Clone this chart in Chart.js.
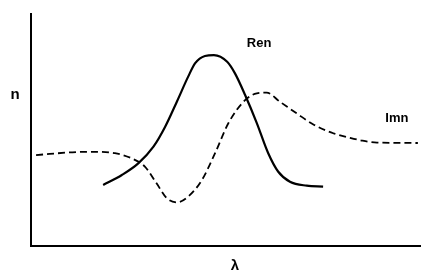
<!DOCTYPE html>
<html><head><meta charset="utf-8">
<script src="https://cdn.jsdelivr.net/npm/chart.js@4"></script>
<style>html,body{margin:0;padding:0;background:#fff}#wrap{width:421px;height:272px}</style>
</head><body><div id="wrap"><canvas id="c" width="421" height="272"></canvas></div>
<script>
const renX = [18.5, 23.3, 27.5, 31.4, 34.4, 37.4, 40.3, 42.1, 44.6, 46.9, 50.3, 52.3, 54.9, 57.9, 60.8, 63.4, 66.4, 70.7, 74.9];
const renY = [26.3, 30.6, 35.6, 42.8, 51.4, 62.2, 73.0, 78.8, 81.9, 82.3, 79.4, 74.4, 65.1, 53.0, 40.1, 32.0, 27.7, 26.0, 25.6];
const imnX = [1.3, 11.8, 16.4, 21.5, 25.8, 29.2, 32.2, 34.8, 37.4, 40.3, 43.8, 47.2, 50.6, 54.9, 57.9, 60.4, 63.8, 68.1, 72.4, 77.5, 81.8, 85.0, 88.7, 99.2];
const imnY = [39.2, 40.5, 40.6, 40.0, 37.8, 34.2, 27.0, 20.6, 18.8, 21.3, 28.4, 40.0, 52.9, 62.9, 65.8, 66.1, 62.2, 57.2, 52.4, 48.6, 46.6, 45.4, 44.6, 44.4];
const labels = [
  {text: 'Ren', x: 58.5, y: 87.5},
  {text: 'Imn', x: 93.8, y: 55.0},
];
const yTitle = 'n';
const xTitle = 'λ';

const pts = (xs, ys) => xs.map((x, i) => ({x, y: ys[i]}));

const textPlugin = {
  id: 'texts',
  afterDraw(chart) {
    const {ctx, scales: {x, y}, chartArea} = chart;
    ctx.save();
    ctx.fillStyle = '#000';
    ctx.font = 'bold 13px "Liberation Sans", Arial, sans-serif';
    ctx.textAlign = 'center';
    ctx.textBaseline = 'middle';
    labels.forEach(l => ctx.fillText(l.text, x.getPixelForValue(l.x), y.getPixelForValue(l.y)));
    ctx.font = 'bold 15px "Liberation Sans", Arial, sans-serif';
    ctx.fillText(yTitle, chartArea.left - 16, y.getPixelForValue(65));
    ctx.fillText(xTitle, x.getPixelForValue(52.3), chartArea.bottom + 20);
    ctx.restore();
  }
};

const zeroW = s => { s.width = 0; };
const zeroH = s => { s.height = 0; };

new Chart(document.getElementById('c'), {
  type: 'line',
  data: {
    datasets: [
      {label: 'Ren', data: pts(renX, renY), borderColor: '#000', borderWidth: 2.2, pointRadius: 0, cubicInterpolationMode: 'monotone', fill: false},
      {label: 'Imn', data: pts(imnX, imnY), borderColor: '#000', borderWidth: 1.8, borderDash: [7, 4], pointRadius: 0, cubicInterpolationMode: 'monotone', fill: false}
    ]
  },
  options: {
    responsive: false,
    animation: false,
    layout: {padding: {left: 31, top: 14, right: 0, bottom: 26}},
    plugins: {legend: {display: false}, tooltip: {enabled: false}},
    scales: {
      x: {type: 'linear', min: 0, max: 100, afterFit: zeroH, grid: {display: false}, ticks: {display: false}, border: {display: true, color: '#000', width: 2}},
      y: {type: 'linear', min: 0, max: 100, afterFit: zeroW, grid: {display: false}, ticks: {display: false}, border: {display: true, color: '#000', width: 2}}
    }
  },
  plugins: [textPlugin]
});
</script>
</body></html>
